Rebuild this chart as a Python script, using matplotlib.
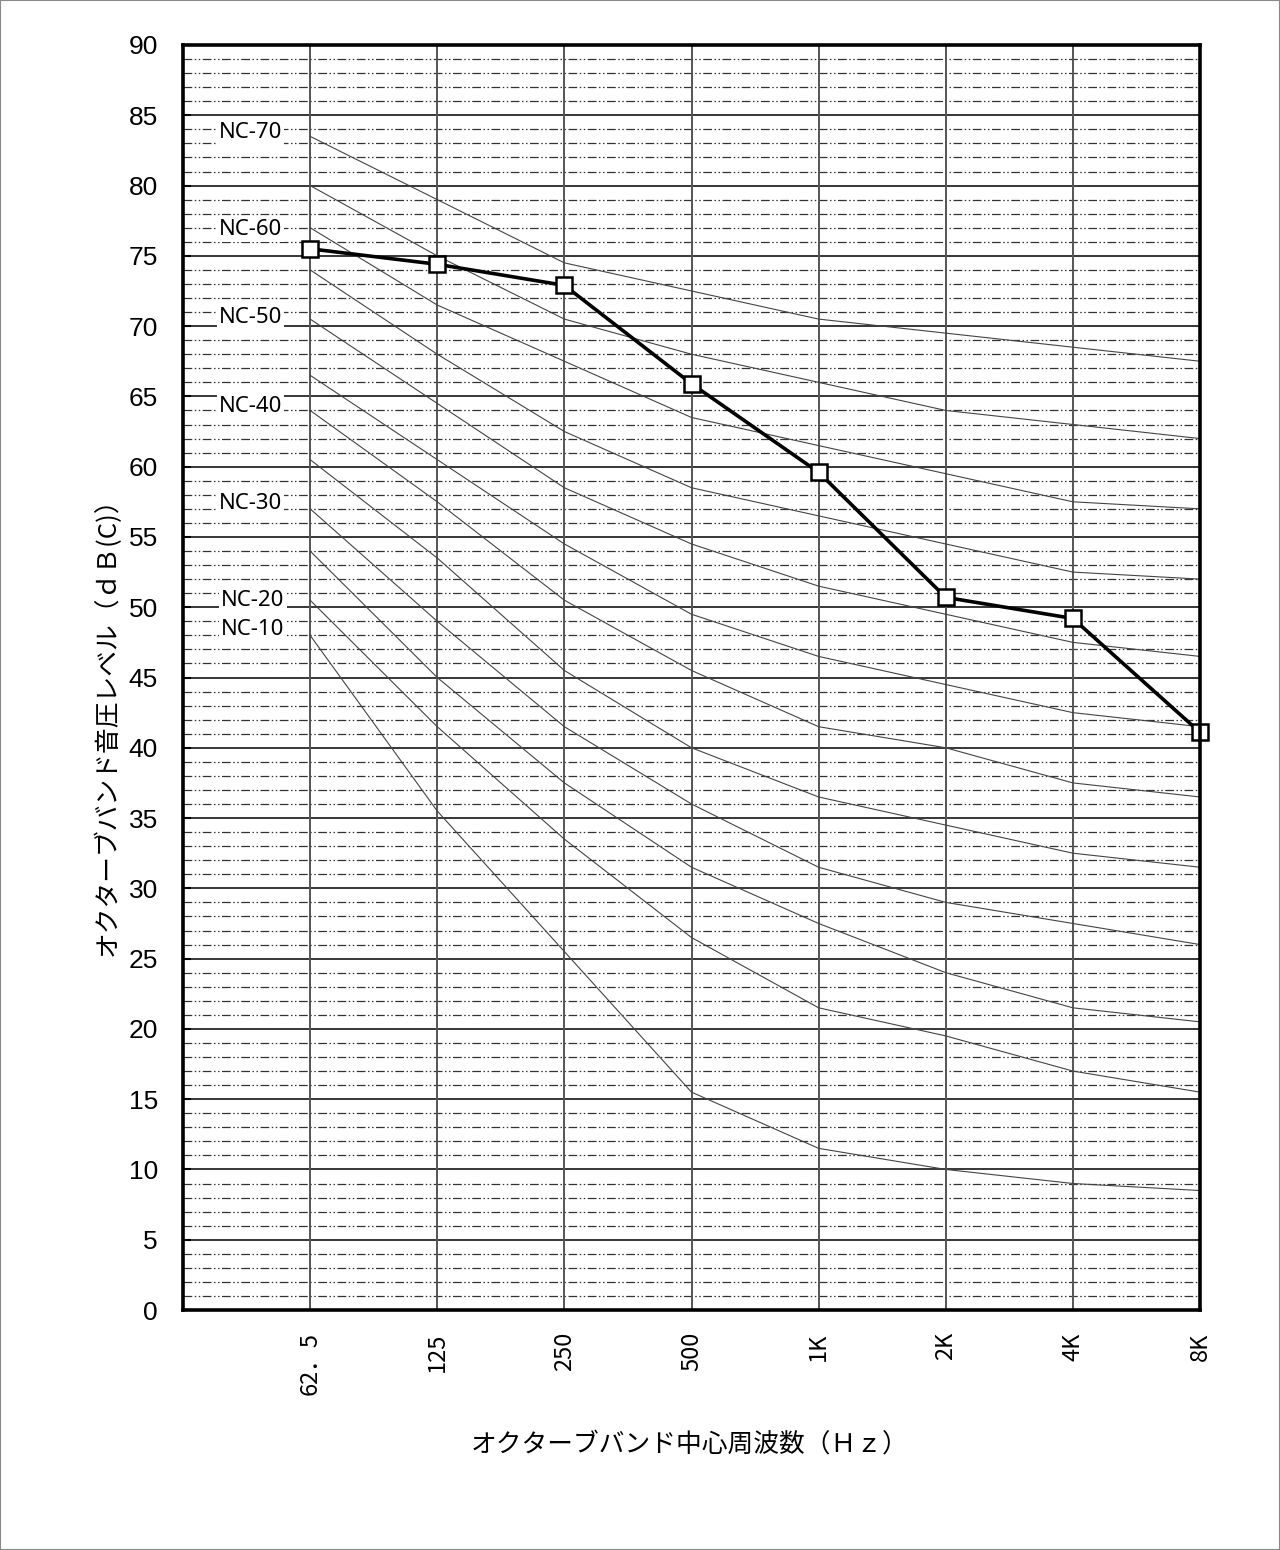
import matplotlib.pyplot as plt
from matplotlib.patches import Rectangle

# octave band centre frequencies
freq_labels = ['62．5', '125', '250', '500', '1K', '2K', '4K', '8K']

# measured level (dB(C))
measured = [75.5, 74.4, 72.9, 65.9, 59.6, 50.7, 49.2, 41.1]

# NC reference curves
nc_1 = [83.5, 79, 74.5, 72.5, 70.5, 69.5, 68.5, 67.5]
nc_2 = [80, 75, 70.5, 68, 66, 64, 63, 62]
nc_3 = [77, 71.5, 67.5, 63.5, 61.5, 59.5, 57.5, 57]
nc_4 = [74, 68, 62.5, 58.5, 56.5, 54.5, 52.5, 52]
nc_5 = [70.5, 64.5, 58.5, 54.5, 51.5, 49.5, 47.5, 46.5]
nc_6 = [66.5, 60.5, 54.5, 49.5, 46.5, 44.5, 42.5, 41.5]
nc_7 = [64, 57.5, 50.5, 45.5, 41.5, 40, 37.5, 36.5]
nc_8 = [60.5, 53.5, 45.5, 40, 36.5, 34.5, 32.5, 31.5]
nc_9 = [57, 49, 41.5, 36, 31.5, 29, 27.5, 26]
nc_10 = [54, 45, 37.5, 31.5, 27.5, 24, 21.5, 20.5]
nc_11 = [50.5, 41.5, 33.5, 26.5, 21.5, 19.5, 17, 15.5]
nc_12 = [48, 35.5, 25.5, 15.5, 11.5, 10, 9, 8.5]

nc_names = ['NC-70', 'NC-60', 'NC-50', 'NC-40', 'NC-30', 'NC-20', 'NC-10']
nc_name_y = [83.8, 76.9, 70.6, 64.3, 57.4, 50.5, 48.4]

jp = ['Noto Sans CJK JP', 'DejaVu Sans']

fig = plt.figure(figsize=(12.8, 15.5), dpi=100)
ax = fig.add_axes([183 / 1280, 1 - 1310 / 1550, (1200 - 183) / 1280, (1310 - 45) / 1550])

x = list(range(1, len(freq_labels) + 1))

# grid
for v in range(0, 91):
    if v % 5 == 0:
        ax.axhline(v, color='black', lw=1.1, zorder=1)
    else:
        ax.axhline(v, color='#333333', lw=0.9, dashes=(7, 2, 1.2, 2, 1.2, 2), zorder=1)
for xi in x:
    ax.axvline(xi, color='#555555', lw=1.4, zorder=1)

for c in [nc_1, nc_2, nc_3, nc_4, nc_5, nc_6, nc_7, nc_8, nc_9, nc_10, nc_11, nc_12]:
    ax.plot(x, c, color='#444444', lw=0.8, zorder=2)

ax.plot(x, measured, color='black', lw=2.6, marker='s', ms=12, mfc='white',
        mec='black', mew=1.8, clip_on=False, zorder=5)

for name, yv in zip(nc_names, nc_name_y):
    xo = 0.55 if name in ('NC-20', 'NC-10') else 0.53
    ax.text(xo, yv, name, ha='center', va='center', fontsize=16, family='Noto Sans',
            bbox=dict(facecolor='white', edgecolor='none', pad=1.5), zorder=4)

ax.set_xlim(0, 8)
ax.set_ylim(0, 90)
ax.set_xticks(x)
ax.set_xticklabels(freq_labels, rotation=90, ha='center', va='top', fontsize=17, family=jp)
ax.tick_params(axis='x', length=0, pad=16)
ax.set_yticks(range(0, 91, 5))
ax.set_yticklabels([str(v) for v in range(0, 91, 5)], fontsize=19,
                   family=['Liberation Sans', 'DejaVu Sans'])
ax.tick_params(axis='y', direction='in', length=6, width=1.5, pad=18)

for s in ax.spines.values():
    s.set_linewidth(2.6)
    s.set_zorder(6)

fig.text(107 / 1280, 1 - 720 / 1550, 'オクターブバンド音圧レベル（ｄＢ(C)）', rotation=90,
         ha='center', va='center', fontsize=18.5, family=jp)
fig.text(690 / 1280, 1 - 1445 / 1550, 'オクターブバンド中心周波数（Ｈｚ）',
         ha='center', va='center', fontsize=18.5, family=jp)

fig.patches.append(Rectangle((0, 0), 1, 1, transform=fig.transFigure, fill=False,
                             edgecolor='#888888', lw=1.5))

fig.savefig('out.png', dpi=100)
